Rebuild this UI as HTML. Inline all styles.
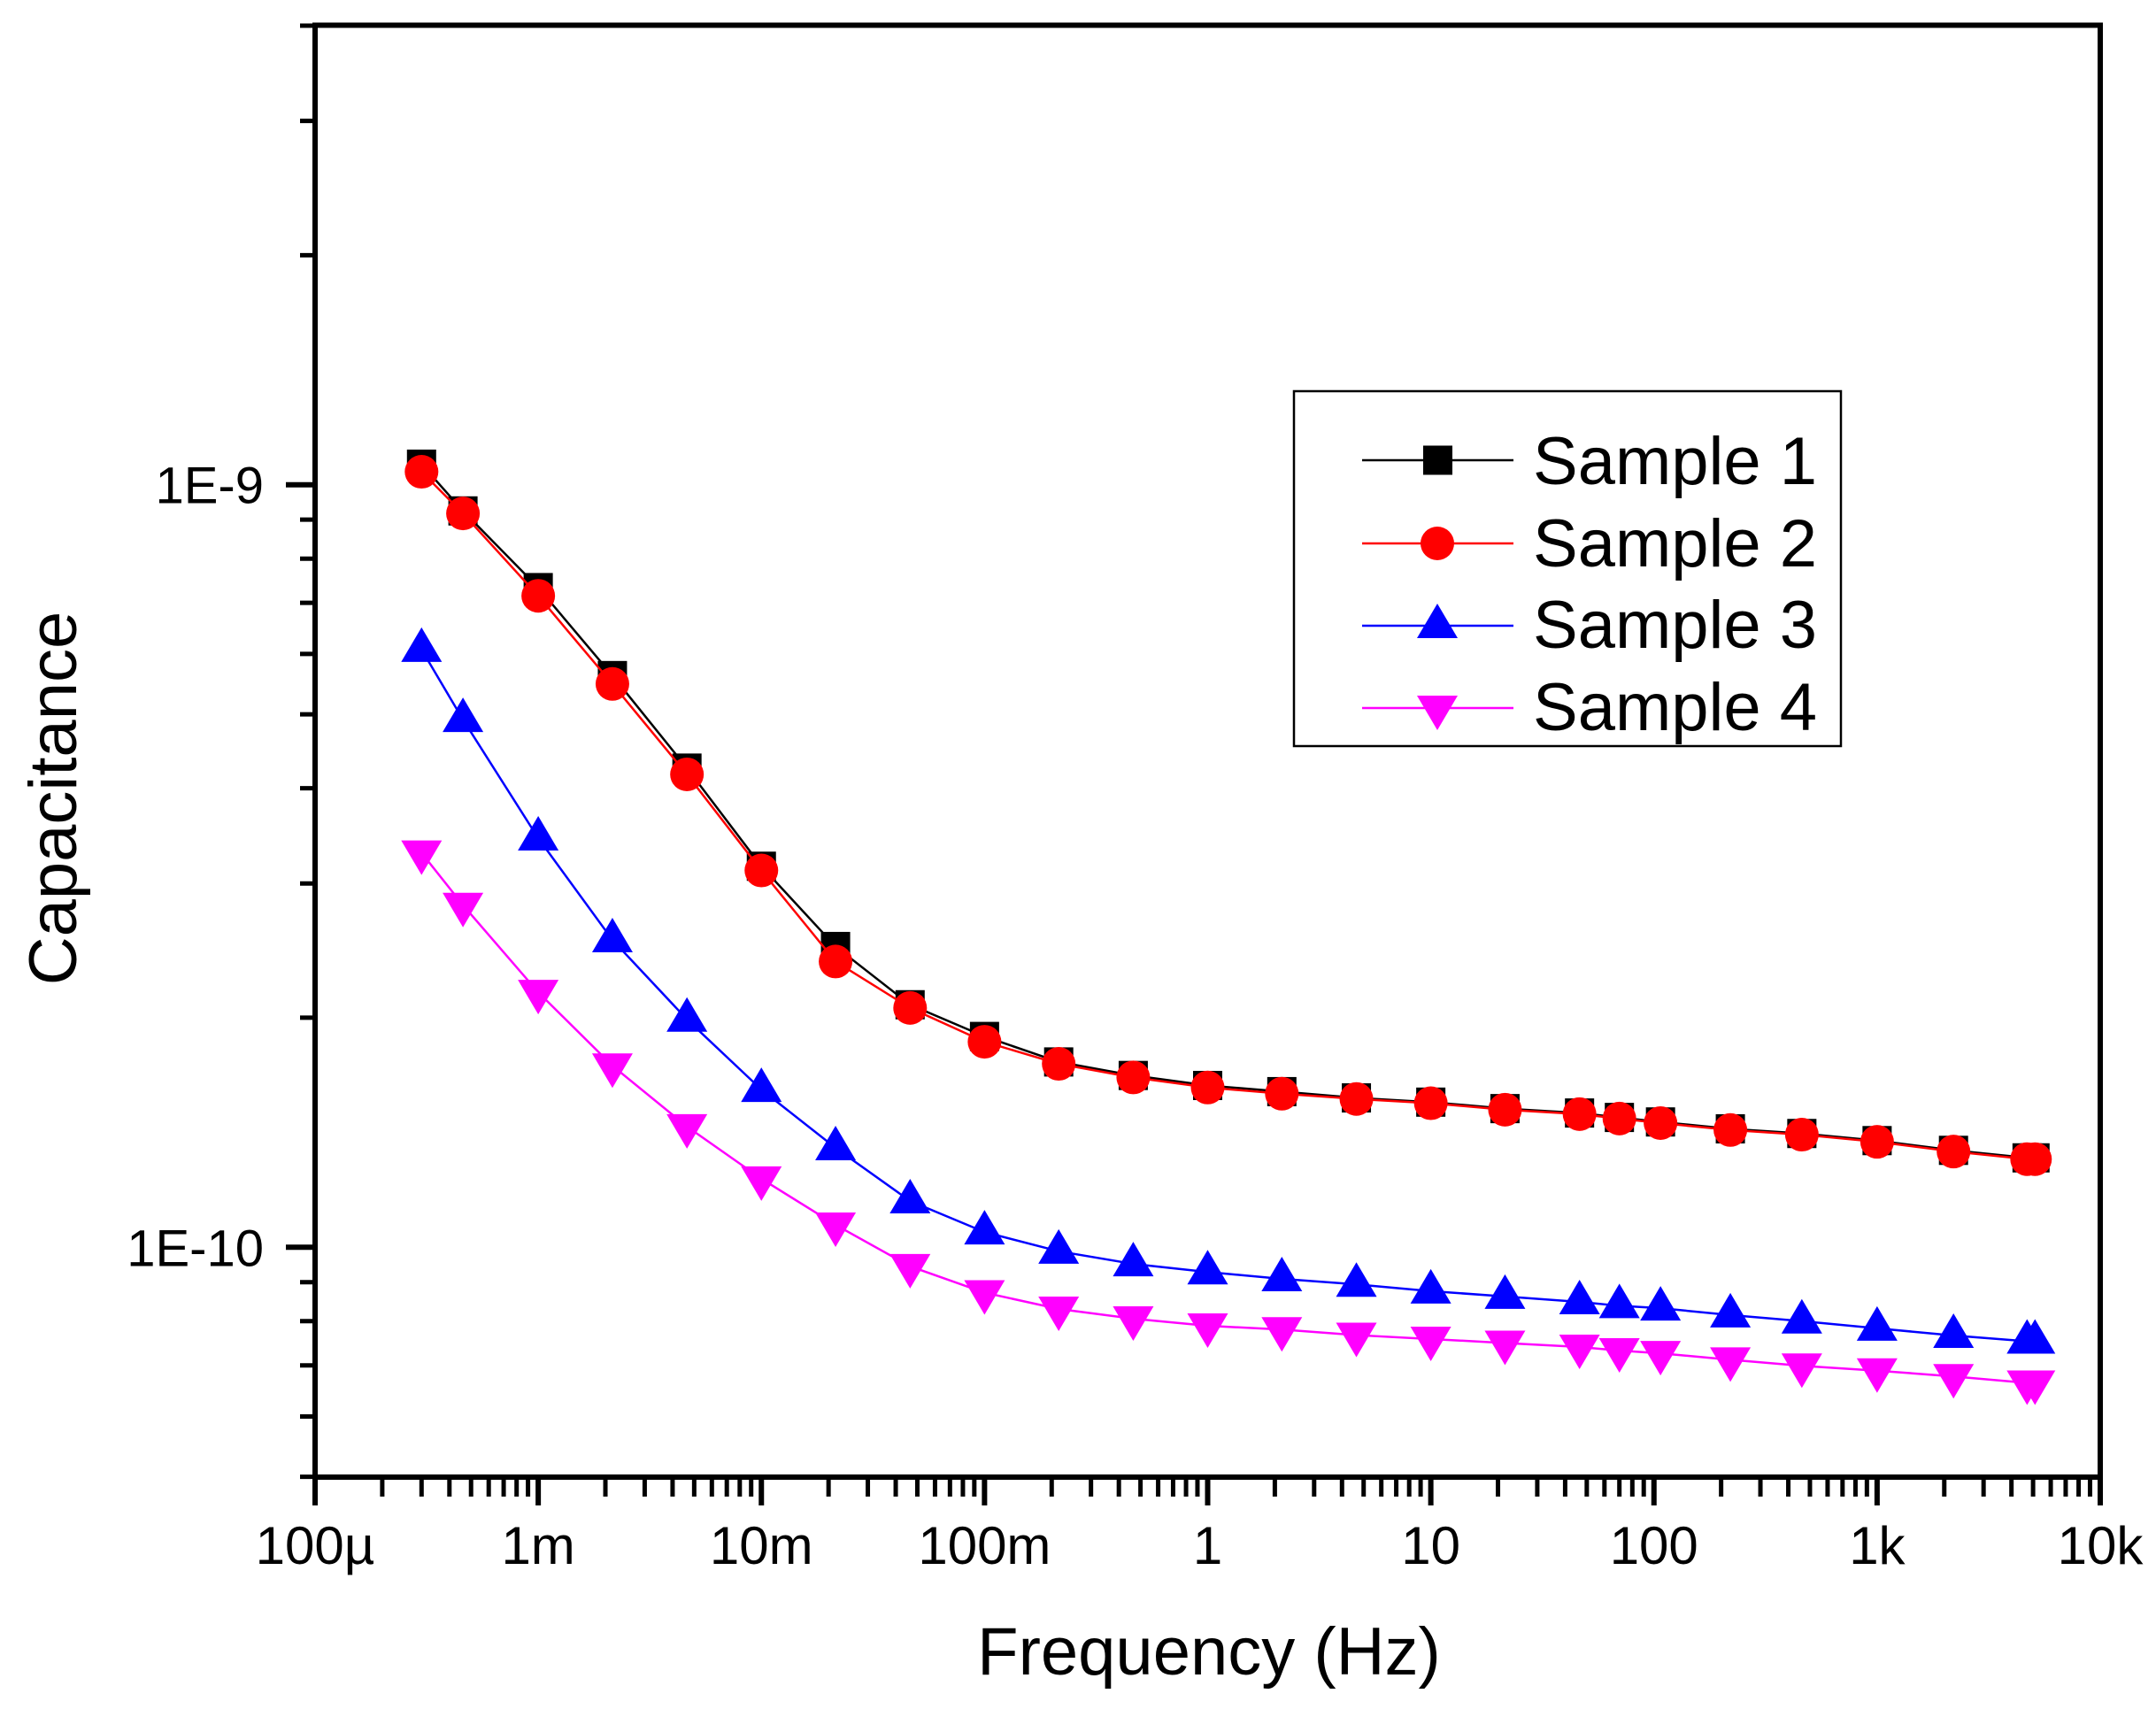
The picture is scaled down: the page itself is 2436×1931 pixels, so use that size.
<!DOCTYPE html>
<html><head><meta charset="utf-8"><style>html,body{margin:0;padding:0;background:#fff}svg{display:block}</style></head>
<body>
<svg id="chart" width="2436" height="1931" viewBox="0 0 2436 1931" xmlns="http://www.w3.org/2000/svg" font-family="Liberation Sans, Arial, sans-serif">
<rect x="0" y="0" width="2436" height="1931" fill="#fff"/>
<g id="axes"></g>
<g id="series"></g>
<rect x="356" y="28.5" width="2017" height="1640.5" fill="none" stroke="#000" stroke-width="6"/>
<text x="1366" y="1892" font-size="76" text-anchor="middle">Frequency (Hz)</text>
<text transform="translate(86,902) rotate(-90)" font-size="76" text-anchor="middle">Capacitance</text>
<g transform="translate(-8,0)">
<rect x="1470" y="442" width="618" height="401" fill="#fff" stroke="#000" stroke-width="2.5"/>
<g><line x1="1547" y1="520" x2="1718" y2="520" stroke="#000" stroke-width="2.5"/><rect x="1616" y="503.5" width="33" height="33" fill="#000"/><text x="1740" y="547" font-size="76">Sample 1</text></g>
<g><line x1="1547" y1="614" x2="1718" y2="614" stroke="#f00" stroke-width="2.5"/><circle cx="1632" cy="614" r="19" fill="#f00"/><text x="1740" y="640" font-size="76">Sample 2</text></g>
<g><line x1="1547" y1="707" x2="1718" y2="707" stroke="#00f" stroke-width="2.5"/><polygon points="1632,682 1655,721 1609,721" fill="#00f"/><text x="1740" y="732" font-size="76">Sample 3</text></g>
<g><line x1="1547" y1="800" x2="1718" y2="800" stroke="#f0f" stroke-width="2.5"/><polygon points="1609,786 1655,786 1632,825" fill="#f0f"/><text x="1740" y="825" font-size="76">Sample 4</text></g>
</g>
</svg>
<script>
const freqs = [0.0003,0.00046,0.001,0.00215,0.00464,0.01,0.0215,0.0464,0.1,0.215,0.464,1,2.15,4.64,10,21.5,46.4,70,107,220,460,1000,2200,4700,5100];
const sample1 = [1.064e-9,9.24e-10,7.33e-10,5.62e-10,4.25e-10,3.16e-10,2.48e-10,2.08e-10,1.89e-10,1.75e-10,1.68e-10,1.63e-10,1.60e-10,1.57e-10,1.55e-10,1.52e-10,1.50e-10,1.48e-10,1.46e-10,1.43e-10,1.41e-10,1.38e-10,1.34e-10,1.31e-10,1.31e-10];
const sample2 = [1.04e-9,9.17e-10,7.15e-10,5.48e-10,4.17e-10,3.12e-10,2.37e-10,2.06e-10,1.86e-10,1.74e-10,1.67e-10,1.62e-10,1.59e-10,1.565e-10,1.545e-10,1.515e-10,1.495e-10,1.475e-10,1.455e-10,1.425e-10,1.405e-10,1.375e-10,1.335e-10,1.305e-10,1.305e-10];
const sample3 = [6.08e-10,4.92e-10,3.44e-10,2.53e-10,1.99e-10,1.61e-10,1.35e-10,1.15e-10,1.047e-10,9.88e-11,9.51e-11,9.28e-11,9.09e-11,8.94e-11,8.76e-11,8.62e-11,8.48e-11,8.38e-11,8.32e-11,8.15e-11,8.0e-11,7.83e-11,7.66e-11,7.53e-11,7.53e-11];
const sample4 = [3.29e-10,2.81e-10,2.16e-10,1.73e-10,1.44e-10,1.23e-10,1.07e-10,9.44e-11,8.72e-11,8.30e-11,8.06e-11,7.89e-11,7.8e-11,7.67e-11,7.58e-11,7.49e-11,7.40e-11,7.32e-11,7.26e-11,7.12e-11,6.99e-11,6.89e-11,6.77e-11,6.64e-11,6.64e-11];
const xTickLabels = ["100µ","1m","10m","100m","1","10","100","1k","10k"];
const yTickLabels = ["1E-10","1E-9"];

const NS="http://www.w3.org/2000/svg";
const X0=356, XDEC=(2373-356)/8, Y9=547.7, YDEC=861.6, YB=1669;
function xs(f){return X0+(Math.log10(f)+4)*XDEC;}
function ys(v){return Y9-(Math.log10(v)+9)*YDEC;}
function mk(tag,attrs,parent){const e=document.createElementNS(NS,tag);for(const k in attrs)e.setAttribute(k,attrs[k]);parent.appendChild(e);return e;}
const axes=document.getElementById('axes');
for(let d=-4;d<=4;d++){
  const x=xs(Math.pow(10,d));
  const t=mk('line',{x1:x,y1:YB,x2:x,y2:YB+32,stroke:'#000','stroke-width':6},axes);
  
  
  const lb=mk('text',{x:x,y:1767,'font-size':60,'text-anchor':'middle'},axes);
  lb.textContent=xTickLabels[d+4];
  
  
  if(d<4)for(let m=2;m<=9;m++){
    const xm=xs(m*Math.pow(10,d));
    const tm=mk('line',{x1:xm,y1:YB,x2:xm,y2:YB+22,stroke:'#000','stroke-width':5},axes);
    
    
  }
}
for(let d=-11;d<=-9;d++){
  for(let m=1;m<=9;m++){
    const v=m*Math.pow(10,d);
    if(v<4.99e-11||v>4.01e-9)continue;
    const y=ys(v);
    const major=(m===1);
    const t=mk('line',{x1:major?323:339,y1:y,x2:356,y2:y,stroke:'#000','stroke-width':major?6:5},axes);
    
    
    if(major){
      const lb=mk('text',{x:298,y:y+21,'font-size':58,'text-anchor':'end'},axes);
      lb.textContent=yTickLabels[d+10];
      
      
    }
  }
}
const series=document.getElementById('series');
function draw(vals,color,shape,name){
  const g=mk('g',{},series);
  
  
  const pts=vals.map((v,i)=>xs(freqs[i])+','+ys(v)).join(' ');
  const pl=mk('polyline',{points:pts,fill:'none',stroke:color,'stroke-width':2.5},g);
  
  
  vals.forEach((v,i)=>{
    const x=xs(freqs[i]),y=ys(v);let e;
    if(shape==='sq')e=mk('rect',{x:x-16.5,y:y-16.5,width:33,height:33,fill:color},g);
    else if(shape==='c')e=mk('circle',{cx:x,cy:y,r:19,fill:color},g);
    else if(shape==='up')e=mk('polygon',{points:`${x},${y-25} ${x+23},${y+14} ${x-23},${y+14}`,fill:color},g);
    else e=mk('polygon',{points:`${x-23},${y-14} ${x+23},${y-14} ${x},${y+25}`,fill:color},g);
    
    
  });
}
draw(sample1,'#000','sq','sample-1');
draw(sample2,'#f00','c','sample-2');
draw(sample3,'#00f','up','sample-3');
draw(sample4,'#f0f','down','sample-4');
</script>
</body></html>
